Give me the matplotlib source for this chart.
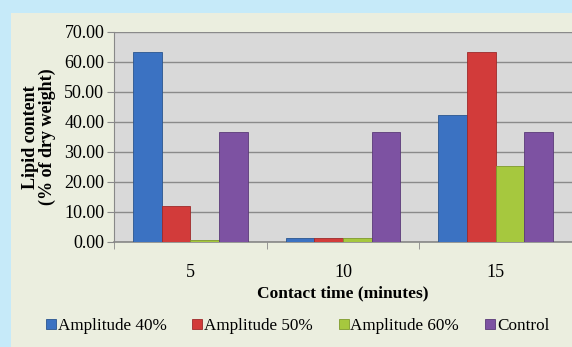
import matplotlib
matplotlib.use("Agg")
import matplotlib.pyplot as plt
import numpy as np
from matplotlib.patches import Rectangle

# data
categories = ["5", "10", "15"]
series_names = ["Amplitude 40%", "Amplitude 50%", "Amplitude 60%", "Control"]
amp40 = [63.5, 1.2, 42.3]
amp50 = [12.0, 1.2, 63.5]
amp60 = [0.6, 1.4, 25.5]
control = [36.7, 36.7, 36.7]
colors = ["#3b72c2", "#d23b3a", "#a6c83e", "#7d52a2"]
edges = ["#2a558f", "#9e2a2a", "#7f9a2c", "#5a3a78"]

plt.rcParams['font.family'] = ['Liberation Serif', 'DejaVu Serif']

fig = plt.figure(figsize=(5.72, 3.47), dpi=100)
fig.patch.set_facecolor("#c6eaf9")
# inner panel
fig.patches.append(Rectangle((11 / 572, 0), 1, 1 - 13 / 347, transform=fig.transFigure,
                             facecolor="#ebeedf", edgecolor="none", zorder=-5))

ax = fig.add_axes([114 / 572, 1 - 242 / 347, (572 - 114) / 572, (242 - 32) / 347])
ax.set_facecolor("#d9d9d9")

x = np.arange(len(categories))
w = 0.1875
for i, (vals, name) in enumerate(zip([amp40, amp50, amp60, control], series_names)):
    ax.bar(x + (i - 1.5) * w, vals, w, color=colors[i], edgecolor=edges[i],
           linewidth=0.6, label=name, zorder=3)

ax.set_xlim(-0.5, 2.5)
ax.set_ylim(0, 70)
ax.set_yticks(np.arange(0, 71, 10))
ax.set_yticklabels([f"{v:.2f}" for v in np.arange(0, 71, 10)], fontsize=13)
ax.set_xticks(x)
ax.set_xticklabels(categories, fontsize=13)
ax.set_xticks([-0.5, 0.5, 1.5, 2.5], minor=True)
ax.tick_params(axis='x', which='major', length=0, pad=16)
ax.tick_params(axis='x', which='minor', length=5, color="#888888")
ax.tick_params(axis='y', length=5, color="#888888", pad=2)
ax.yaxis.grid(True, color="#8a8a8a", linewidth=1.0, zorder=0)
ax.set_axisbelow(True)
for s in ["top", "right"]:
    ax.spines[s].set_visible(False)
ax.spines["left"].set_color("#888888")
ax.spines["bottom"].set_color("#888888")
ax.spines["bottom"].set_linewidth(1.2)

ax.set_ylabel("Lipid content\n(% of dry weight)", fontsize=13, fontweight="bold",
              linespacing=0.95, labelpad=6)
ax.set_xlabel("Contact time (minutes)", fontsize=12.5, fontweight="bold", labelpad=3)

handles, labels = ax.get_legend_handles_labels()
fig.legend(handles, labels, loc="center", bbox_to_anchor=(0.52, 1 - 326 / 347), ncol=4,
           frameon=False, fontsize=12.3, handlelength=0.6, handleheight=0.6,
           handletextpad=0.1, columnspacing=1.5)

fig.savefig("out.png", dpi=100, facecolor=fig.get_facecolor())
